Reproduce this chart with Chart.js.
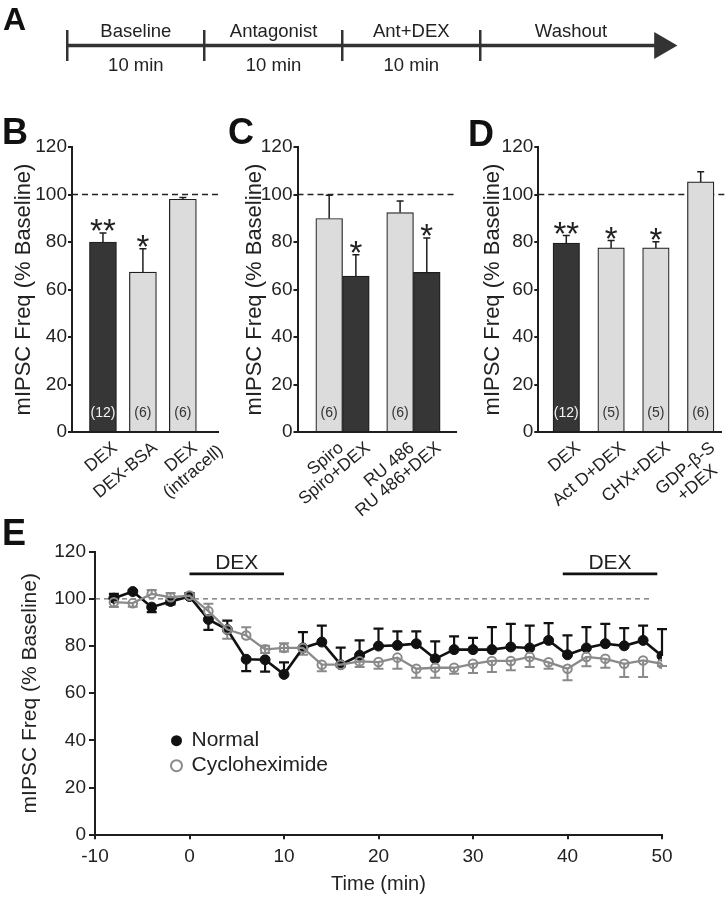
<!DOCTYPE html>
<html>
<head>
<meta charset="utf-8">
<script src="https://cdn.jsdelivr.net/npm/chart.js@4.4.1/dist/chart.umd.min.js"></script>
<style>
html,body{margin:0;padding:0;background:#fff;}
#wrap{position:relative;width:728px;height:900px;background:#fff;overflow:hidden;}
#wrap canvas{position:absolute;}
.lt{position:absolute;font-family:'Liberation Sans',Arial,Helvetica,sans-serif;font-weight:bold;font-size:36px;line-height:1;color:#111;}
</style>
</head>
<body>
<div id="wrap">
  <canvas id="cA" width="728" height="110" style="left:0;top:0"></canvas>
  <canvas id="cB" width="228" height="410" style="left:0;top:110px"></canvas>
  <canvas id="cC" width="242" height="410" style="left:228px;top:110px"></canvas>
  <canvas id="cD" width="258" height="410" style="left:470px;top:110px"></canvas>
  <canvas id="cE" width="728" height="385" style="left:0;top:515px"></canvas>
  <div class="lt" style="left:3px;top:3px;font-size:32px">A</div>
  <div class="lt" style="left:2px;top:114px">B</div>
  <div class="lt" style="left:228px;top:114px">C</div>
  <div class="lt" style="left:468px;top:116px">D</div>
  <div class="lt" style="left:2px;top:515px">E</div>
</div>
<script>
// ---------- DATA ----------
// Panel A (protocol timeline, minutes)
const phaseNames = ["Baseline", "Antagonist", "Ant+DEX", "Washout"];
const phaseDurations = ["10 min", "10 min", "10 min", ""];
const phaseStarts = [0, 10, 20, 30];
const timelineEnd = 43.2;

// Panel B
const bLabels = [["DEX"], ["DEX-BSA"], ["DEX", "(intracell)"]];
const bMeans = [80.0, 67.3, 98.0];
const bSEM = [3.8, 9.9, 0.7];
const bStars = ["**", "*", ""];
const bN = ["(12)", "(6)", "(6)"];

// Panel C
const cAntLabels = [["Spiro"], ["RU 486"]];
const cAntDexLabels = [["Spiro+DEX"], ["RU 486+DEX"]];
const cAntMeans = [89.9, 92.4];
const cAntSEM = [9.8, 4.9];
const cAntDexMeans = [65.6, 67.2];
const cAntDexSEM = [9.0, 14.5];
const cAntN = ["(6)", "(6)"];
const cAntDexStars = ["*", "*"];

// Panel D
const dLabels = [["DEX"], ["Act D+DEX"], ["CHX+DEX"], ["GDP-\u03B2-S", "+DEX"]];
const dMeans = [79.5, 77.5, 77.5, 105.3];
const dSEM = [3.2, 3.1, 2.6, 4.3];
const dStars = ["**", "*", "*", ""];
const dN = ["(12)", "(5)", "(5)", "(6)"];

// Panel E
const eTime = [-8, -6, -4, -2, 0, 2, 4, 6, 8, 10, 12, 14, 16, 18, 20, 22, 24, 26, 28, 30, 32, 34, 36, 38, 40, 42, 44, 46, 48, 50];
const normalMean = [100.3, 103.1, 96.5, 98.9, 101.0, 91.3, 87.0, 74.4, 74.2, 68.0, 79.2, 81.7, 72.1, 76.1, 80.0, 80.3, 81.0, 74.6, 78.5, 78.5, 78.5, 79.6, 79.2, 82.4, 76.3, 79.2, 81.0, 80.1, 82.4, 75.8];
const normalErrUp = [1.8, 0.5, 0, 0, 1.5, 0, 3.8, 0, 0, 5.1, 6.7, 7.0, 7.2, 6.3, 7.4, 5.9, 5.2, 7.4, 5.6, 5.0, 9.5, 9.8, 9.5, 7.3, 8.2, 8.8, 8.4, 7.5, 6.3, 11.4];
const normalErrDown = [0, 0, 2.1, 1.2, 0, 4.4, 0, 5.0, 5.0, 0, 0, 0, 0, 0, 0, 0, 0, 0, 0, 0, 0, 0, 0, 0, 0, 0, 0, 0, 0, 0];
const chxMean = [98.6, 98.2, 102.1, 100.7, 101.4, 94.8, 87.0, 84.5, 78.6, 79.2, 79.2, 72.1, 72.1, 73.5, 73.2, 75.1, 70.4, 70.8, 70.8, 72.5, 73.7, 73.7, 75.4, 73.1, 70.4, 75.4, 74.6, 72.5, 73.9, 72.5];
const chxErrUp = [2.0, 0, 1.7, 1.8, 1.0, 3.1, 0, 3.5, 1.5, 2.0, 0, 0, 0, 0, 0, 0, 0, 0, 0, 0, 0, 0, 0, 0, 0, 0, 0, 0, 0, 0];
const chxErrDown = [2.0, 1.5, 0, 0, 0, 0, 3.9, 0, 1.5, 1.5, 2.9, 2.8, 1.0, 2.4, 2.8, 4.7, 3.8, 4.2, 2.5, 3.9, 4.7, 4.0, 4.3, 2.7, 4.9, 4.0, 3.8, 5.6, 7.0, 1.0];
const dexPeriods = [[0, 10], [39.5, 49.5]];
const dexLevel = 110.6;
const baselineLevel = 100;
const eBaselineEnd = 49;
const yTitle = "mIPSC Freq (% Baseline)";

// ---------- STYLE / HELPERS ----------
const FONT = "'Liberation Sans', Arial, Helvetica, sans-serif";
Chart.defaults.font.family = FONT;
Chart.defaults.color = '#222';
Chart.defaults.animation = false;
const INK = '#1e1e1e';
const DARK = '#363636';
const LIGHT = '#dcdcdc';

// Panel A
const phasePlugin = {
  id: 'phaseLabels',
  afterDraw(chart) {
    const {ctx, scales: {x, y}} = chart;
    const lineY = y.getPixelForValue(0);
    ctx.save();
    ctx.font = '18.5px ' + FONT;
    ctx.fillStyle = '#222';
    ctx.textAlign = 'center';
    ctx.textBaseline = 'alphabetic';
    phaseNames.forEach((nm, i) => {
      const s = phaseStarts[i];
      const e = i + 1 < phaseStarts.length ? phaseStarts[i + 1] : timelineEnd;
      const cx = x.getPixelForValue((s + e) / 2);
      ctx.fillText(nm, cx, lineY - 9);
      if (phaseDurations[i]) ctx.fillText(phaseDurations[i], cx, lineY + 25);
    });
    ctx.restore();
  }
};

new Chart(document.getElementById('cA'), {
  type: 'line',
  data: {
    datasets: [{
      data: [{x: phaseStarts[0], y: 0}, {x: timelineEnd, y: 0}],
      borderColor: '#333', borderWidth: 3.5,
      pointRadius: [0, 15.5], pointStyle: 'triangle', rotation: 90,
      pointBackgroundColor: '#333', pointBorderColor: '#333', pointBorderWidth: 0
    }]
  },
  options: {
    responsive: false, animation: false, events: [],
    layout: {padding: {left: 67, right: 41.3, top: 30, bottom: 49}},
    scales: {
      x: {
        type: 'linear', min: 0, max: 45,
        afterBuildTicks: s => { s.ticks = phaseStarts.map(v => ({value: v})); },
        ticks: {display: false},
        grid: {display: true, drawTicks: false, color: '#333', lineWidth: 2.5},
        border: {display: false},
        afterFit: s => { s.height = 0; }
      },
      y: {display: false, min: -1, max: 1}
    },
    plugins: {legend: {display: false}, tooltip: {enabled: false}}
  },
  plugins: [phasePlugin]
});

// Bar panels
function barExtras(spec) {
  return {
    id: 'barExtras',
    beforeDatasetsDraw(chart) {
      const {ctx, chartArea, scales: {y}} = chart;
      const yy = y.getPixelForValue(baselineLevel);
      ctx.save();
      ctx.setLineDash([6, 4]);
      ctx.lineWidth = 1.4;
      ctx.strokeStyle = '#222';
      ctx.beginPath();
      ctx.moveTo(chartArea.left, yy);
      ctx.lineTo(spec.toEdge ? chart.width : chartArea.right, yy);
      ctx.stroke();
      ctx.restore();
    },
    afterDatasetsDraw(chart) {
      const {ctx, chartArea, scales: {y}} = chart;
      spec.series.forEach((s, di) => {
        const meta = chart.getDatasetMeta(di);
        const ds = chart.data.datasets[di];
        meta.data.forEach((bar, i) => {
          const v = ds.data[i].y;
          const top = y.getPixelForValue(v + s.err[i]);
          ctx.save();
          ctx.strokeStyle = INK; ctx.lineWidth = 1.5;
          ctx.beginPath();
          ctx.moveTo(bar.x, bar.y); ctx.lineTo(bar.x, top);
          ctx.moveTo(bar.x - 3.5, top); ctx.lineTo(bar.x + 3.5, top);
          ctx.stroke();
          if (s.stars && s.stars[i]) {
            ctx.font = '33px ' + FONT; ctx.fillStyle = '#222';
            ctx.textAlign = 'center'; ctx.textBaseline = 'alphabetic';
            ctx.fillText(s.stars[i], bar.x, top + 9);
          }
          if (s.n && s.n[i]) {
            ctx.font = '14px ' + FONT; ctx.fillStyle = s.nColors[i];
            ctx.textAlign = 'center'; ctx.textBaseline = 'middle';
            ctx.fillText(s.n[i], bar.x, y.getPixelForValue(8.1));
          }
          // category label, rotated
          const lines = s.labels[i];
          ctx.translate(bar.x + 6.5, chartArea.bottom + 7);
          ctx.rotate(-40 * Math.PI / 180);
          ctx.font = '17.5px ' + FONT; ctx.fillStyle = '#222';
          ctx.textBaseline = 'top'; ctx.textAlign = 'center';
          const w0 = ctx.measureText(lines[0]).width;
          lines.forEach((ln, k) => ctx.fillText(ln, -w0 / 2, k * 19));
          ctx.restore();
        });
      });
    }
  };
}

function barChart(id, o) {
  return new Chart(document.getElementById(id), {
    type: 'bar',
    data: {datasets: o.datasets},
    options: {
      responsive: false, animation: false, events: [],
      layout: {padding: {left: 0, top: 37, right: o.padRight, bottom: 0}},
      scales: {
        x: {
          type: 'linear', min: o.xMin, max: o.xMax, offset: false,
          ticks: {display: false}, grid: {display: false},
          border: {display: true, color: INK, width: 2},
          afterFit: s => { s.height = 88; }
        },
        y: {
          min: 0, max: 120,
          ticks: {stepSize: 20, font: {size: 19}, color: '#222', padding: 1},
          grid: {display: true, drawOnChartArea: false, drawTicks: true, tickLength: 4, color: INK, lineWidth: 2},
          border: {display: true, color: INK, width: 2},
          title: {display: true, text: yTitle, font: {size: 22}, color: '#222', padding: {top: o.titlePad, bottom: 0}},
          afterFit: s => { s.width = o.yWidth; }
        }
      },
      plugins: {legend: {display: false}, tooltip: {enabled: false}}
    },
    plugins: [barExtras(o.extras)]
  });
}

const toXY = arr => arr.map((v, i) => ({x: i, y: v}));

barChart('cB', {
  xMin: -0.775, xMax: 2.88, padRight: 10, yWidth: 72, titlePad: 11,
  datasets: [{data: toXY(bMeans), backgroundColor: [DARK, LIGHT, LIGHT], borderColor: INK, borderWidth: 1.2, barThickness: 27}],
  extras: {series: [{labels: bLabels, err: bSEM, stars: bStars, n: bN, nColors: ['#f2f2f2', '#333', '#333']}]}
});

barChart('cC', {
  xMin: -0.635, xMax: 1.61, padRight: 13.3, yWidth: 69.5, titlePad: 13.8,
  datasets: [
    {data: toXY(cAntMeans), backgroundColor: LIGHT, borderColor: INK, borderWidth: 1.2, barThickness: 26.7},
    {data: toXY(cAntDexMeans), backgroundColor: DARK, borderColor: INK, borderWidth: 1.2, barThickness: 26.7}
  ],
  extras: {series: [
    {labels: cAntLabels, err: cAntSEM, stars: null, n: cAntN, nColors: ['#333', '#333']},
    {labels: cAntDexLabels, err: cAntDexSEM, stars: cAntDexStars, n: null, nColors: []}
  ]}
});

barChart('cD', {
  xMin: -0.625, xMax: 3.469, padRight: 6.3, yWidth: 68.3, titlePad: 9.3,
  datasets: [{data: toXY(dMeans), backgroundColor: [DARK, LIGHT, LIGHT, LIGHT], borderColor: INK, borderWidth: 1.2, barThickness: 26.5}],
  extras: {toEdge: true, series: [{labels: dLabels, err: dSEM, stars: dStars, n: dN, nColors: ['#f2f2f2', '#333', '#333', '#333']}]}
});

// Panel E
const GRAY = '#8a8a8a';
const BLACK = '#111';
const eErr = [
  {up: chxErrUp, down: chxErrDown, color: GRAY, width: 2},
  {up: normalErrUp, down: normalErrDown, color: BLACK, width: 2.2}
];
const ePlugin = {
  id: 'eExtras',
  beforeDatasetsDraw(chart) {
    const {ctx, scales: {x, y}} = chart;
    ctx.save();
    ctx.setLineDash([5, 4]); ctx.lineWidth = 1; ctx.strokeStyle = '#444';
    const yb = y.getPixelForValue(baselineLevel);
    ctx.beginPath(); ctx.moveTo(x.getPixelForValue(x.min), yb); ctx.lineTo(x.getPixelForValue(eBaselineEnd), yb); ctx.stroke();
    ctx.setLineDash([]);
    eErr.forEach((e, di) => {
      const ds = chart.data.datasets[di];
      ctx.strokeStyle = e.color; ctx.lineWidth = e.width;
      ds.data.forEach((p, i) => {
        const px = x.getPixelForValue(p.x), py = y.getPixelForValue(p.y);
        [[e.up[i], 1], [e.down[i], -1]].forEach(([d, sgn]) => {
          if (!d) return;
          const pe = y.getPixelForValue(p.y + sgn * d);
          ctx.beginPath(); ctx.moveTo(px, py); ctx.lineTo(px, pe);
          ctx.moveTo(px - 5, pe); ctx.lineTo(px + 5, pe); ctx.stroke();
        });
      });
    });
    ctx.restore();
  },
  afterDatasetsDraw(chart) {
    const {ctx, scales: {x, y}} = chart;
    ctx.save();
    // DEX application bars
    const yd = y.getPixelForValue(dexLevel);
    ctx.strokeStyle = BLACK; ctx.lineWidth = 2.8;
    ctx.font = '21px ' + FONT; ctx.fillStyle = '#222'; ctx.textAlign = 'center'; ctx.textBaseline = 'alphabetic';
    dexPeriods.forEach(([a, b]) => {
      ctx.beginPath(); ctx.moveTo(x.getPixelForValue(a), yd); ctx.lineTo(x.getPixelForValue(b), yd); ctx.stroke();
      ctx.fillText('DEX', x.getPixelForValue((a + b) / 2), yd - 5);
    });
    // legend
    const items = [chart.data.datasets[1], chart.data.datasets[0]];
    ctx.font = '21px ' + FONT; ctx.textAlign = 'left'; ctx.textBaseline = 'middle';
    items.forEach((ds, k) => {
      const ly = 225.7 + k * 25, lx = 176.5;
      ctx.beginPath(); ctx.arc(lx, ly, 5.5, 0, Math.PI * 2);
      if (ds.pointBackgroundColor === BLACK) { ctx.fillStyle = BLACK; ctx.fill(); }
      else { ctx.strokeStyle = ds.pointBorderColor; ctx.lineWidth = 2; ctx.stroke(); }
      ctx.fillStyle = '#222';
      ctx.fillText(ds.label, 191.5, ly);
    });
    ctx.restore();
  }
};

new Chart(document.getElementById('cE'), {
  type: 'line',
  data: {
    datasets: [
      {label: 'Cycloheximide', data: eTime.map((t, i) => ({x: t, y: chxMean[i]})),
       borderColor: GRAY, borderWidth: 2.3, tension: 0,
       pointRadius: 4.3, pointBorderWidth: 2, pointBackgroundColor: 'rgba(255,255,255,0)', pointBorderColor: GRAY},
      {label: 'Normal', data: eTime.map((t, i) => ({x: t, y: normalMean[i]})),
       borderColor: BLACK, borderWidth: 2.6, tension: 0,
       pointRadius: 5, pointBorderWidth: 1, pointBackgroundColor: BLACK, pointBorderColor: BLACK}
    ]
  },
  options: {
    responsive: false, animation: false, events: [],
    layout: {padding: {left: 0, top: 36.7, right: 66, bottom: 0}},
    scales: {
      x: {
        type: 'linear', min: -10, max: 50,
        ticks: {stepSize: 10, font: {size: 19}, color: '#222', padding: 6, maxRotation: 0},
        grid: {display: true, drawOnChartArea: false, drawTicks: true, tickLength: 4.5, color: INK, lineWidth: 2},
        border: {display: true, color: INK, width: 2},
        title: {display: true, text: 'Time (min)', font: {size: 20}, color: '#222', padding: {top: 0, bottom: 4}},
        afterFit: s => { s.height = 65.2; }
      },
      y: {
        min: 0, max: 120,
        ticks: {stepSize: 20, font: {size: 19}, color: '#222', padding: 3},
        grid: {display: true, drawOnChartArea: false, drawTicks: true, tickLength: 6, color: INK, lineWidth: 2},
        border: {display: true, color: INK, width: 2},
        title: {display: true, text: yTitle, font: {size: 21}, color: '#222', padding: {top: 17.4, bottom: 0}},
        afterFit: s => { s.width = 95; }
      }
    },
    plugins: {legend: {display: false}, tooltip: {enabled: false}}
  },
  plugins: [ePlugin]
});
</script>
</body>
</html>
